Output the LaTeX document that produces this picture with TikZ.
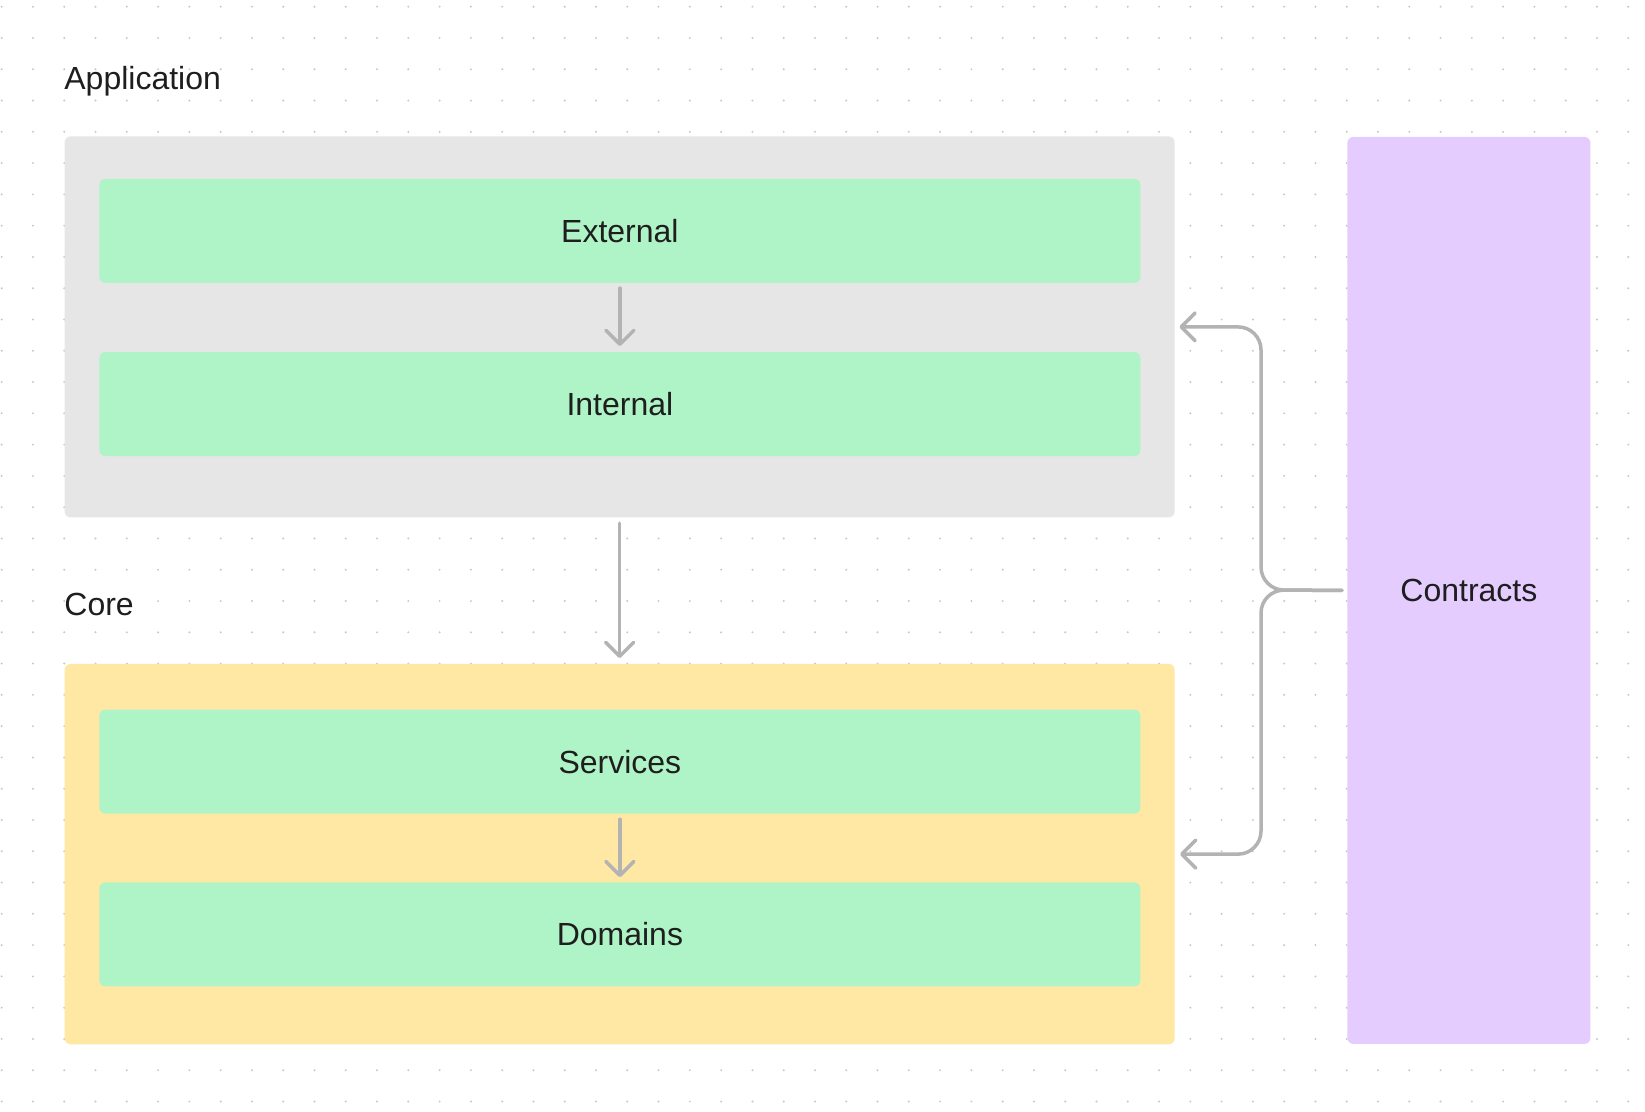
\documentclass[tikz,border=0pt]{standalone}
\usepackage{fontspec}
\setmainfont{Liberation Sans}
\usetikzlibrary{arrows.meta,calc}
\definecolor{graybox}{HTML}{E6E6E6}
\definecolor{greenbox}{HTML}{AFF4C6}
\definecolor{yellowbox}{HTML}{FFE8A3}
\definecolor{violetbox}{HTML}{E4CCFF}
\definecolor{connc}{HTML}{B3B3B3}
\definecolor{dotc}{HTML}{C8C8C8}
\definecolor{txtc}{HTML}{1E1E1E}
\tikzset{
  panel/.style={anchor=north west, inner sep=0pt, rounded corners=3pt, draw=none},
  layer/.style={anchor=north west, inner sep=0pt, rounded corners=3pt, draw=none, fill=greenbox,
    minimum width=520.5pt, minimum height=52pt, text=txtc, font=\fontsize{16pt}{19pt}\selectfont},
  heading/.style={anchor=base west, inner sep=0pt, text=txtc, font=\fontsize{16pt}{19pt}\selectfont},
  conn/.style={draw=connc, line width=1.75pt, line cap=round, line join=round,
    -{Straight Barb[length=7pt,width=14pt,round]}},
}
\begin{document}
\begin{tikzpicture}[x=0.5pt,y=-0.5pt]
\useasboundingbox (0,0) rectangle (1645,1112);
\fill[white] (0,0) rectangle (1645,1112);
% dot grid
\foreach \i in {0,...,52}{
  \foreach \j in {0,...,35}{
    \fill[dotc] ({1.7+\i*31.28},{6.7+\j*31.28}) circle (0.55pt);
  }
}
% containers
\node[panel, fill=graybox, minimum width=555pt, minimum height=190.5pt] (app) at (64.25,136) {};
\node[panel, fill=yellowbox, minimum width=555pt, minimum height=190.25pt] (core) at (64.25,663.5) {};
\node[panel, fill=violetbox, minimum width=121.5pt, minimum height=453.5pt,
  text=txtc, font=\fontsize{16pt}{19pt}\selectfont] (contracts) at (1347,136.5) {Contracts};
% labels
\node[heading] (applbl) at (64,90) {Application};
\node[heading] (corelbl) at (64,616) {Core};
% layers
\node[layer] (ext) at (99,178.5) {External};
\node[layer] (int) at (99,351.7) {Internal};
\node[layer] (srv) at (99,709.3) {Services};
\node[layer] (dom) at (99,882) {Domains};
% connectors
\draw[conn, shorten <=2.4pt, shorten >=2.8pt] (ext.south) -- (int.north);
\draw[conn, shorten <=2.7pt, shorten >=2.7pt] (app.south) -- (core.north);
\draw[conn, shorten <=2.6pt, shorten >=2.4pt] (srv.south) -- (dom.north);
\coordinate (brace) at (1261,590);
\draw[conn, rounded corners=11.5pt] ([xshift=-2.5pt]contracts.west) -- (brace) |- ([xshift=2.2pt]app.east);
\draw[conn, rounded corners=11.5pt] ([xshift=-2.5pt]contracts.west) -- (brace) |- ([xshift=2.5pt]core.east);
\end{tikzpicture}
\end{document}
